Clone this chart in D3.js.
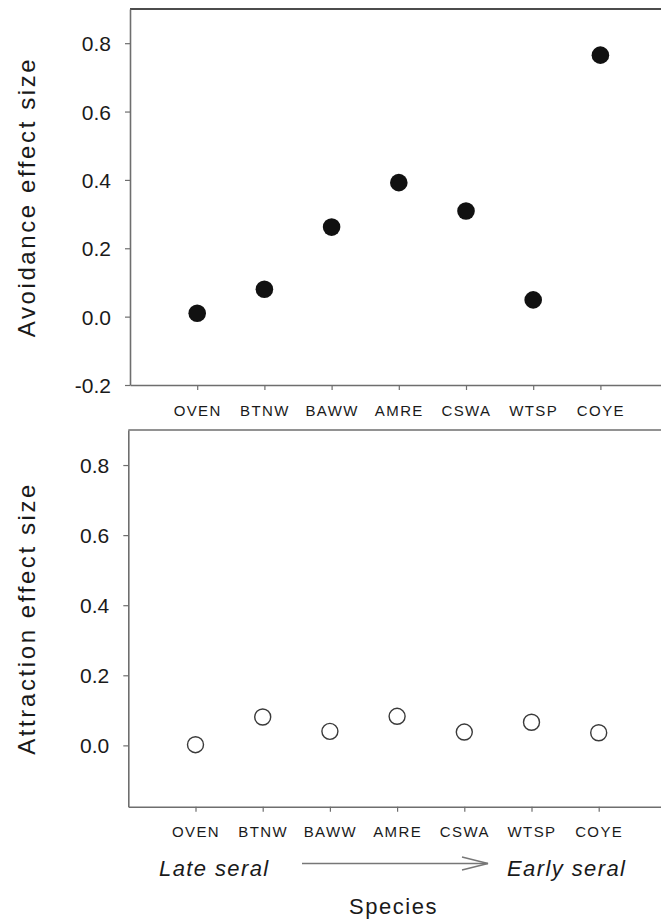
<!DOCTYPE html>
<html>
<head>
<meta charset="utf-8">
<script src="https://cdn.jsdelivr.net/npm/d3@7"></script>
<style>
  body { margin: 0; background: #fff; }
  text { font-family: "Liberation Sans", Arial, sans-serif; fill: #1a1a1a; }
</style>
</head>
<body>
<div id="chart"></div>
<script>
const width = 661;
const height = 920;

const species = ['OVEN', 'BTNW', 'BAWW', 'AMRE', 'CSWA', 'WTSP', 'COYE'];
const avoidance = [0.01, 0.08, 0.262, 0.392, 0.309, 0.049, 0.765];
const attraction = [0.002, 0.081, 0.04, 0.083, 0.038, 0.066, 0.036];
const avoidTicks = [-0.2, 0, 0.2, 0.4, 0.6, 0.8];
const attractTicks = [0, 0.2, 0.4, 0.6, 0.8];

const svg = d3.select('#chart')
    .append('svg')
    .attr('width', width)
    .attr('height', height);

// plain hyphen for negatives, like the original
const fmt = d => d3.format('.1f')(d).replace('\u2212', '-');

// one panel = frame + axes + points
function panel(opts) {
    const x = d3.scaleLinear().domain([0, 8]).range([opts.left, opts.left + 537.6]);
    const y = d3.scaleLinear().domain(opts.ydomain).range([opts.bottom, opts.top]);
    const g = svg.append('g');

    // frame (right edge falls outside the picture)
    g.append('line')
        .attr('x1', x(0)).attr('x2', x(8))
        .attr('y1', opts.top).attr('y2', opts.top)
        .attr('stroke', opts.topColor).attr('stroke-width', 1.6);

    const yAxis = g.append('g')
        .attr('transform', `translate(${x(0)},0)`)
        .call(d3.axisLeft(y).tickValues(opts.ticks).tickSize(5).tickSizeOuter(0)
            .tickPadding(14).tickFormat(fmt));
    yAxis.select('.domain').attr('stroke', '#6e6e6e').attr('stroke-width', 1.6);
    yAxis.selectAll('.tick line').attr('stroke', '#6e6e6e').attr('stroke-width', 1.2);
    yAxis.selectAll('.tick text')
        .attr('font-size', 21).attr('fill', '#1a1a1a')
        .attr('font-family', '"Liberation Sans", Arial, sans-serif')
        .attr('dy', '0.36em');

    const xAxis = g.append('g')
        .attr('transform', `translate(0,${opts.bottom})`)
        .call(d3.axisBottom(x).tickValues(d3.range(1, 8)).tickSize(5).tickSizeOuter(0)
            .tickFormat(i => species[i - 1]));
    xAxis.select('.domain').attr('stroke', '#6e6e6e').attr('stroke-width', 1.6);
    xAxis.selectAll('.tick line').attr('stroke', '#6e6e6e').attr('stroke-width', 1.2);
    xAxis.selectAll('.tick text')
        .attr('font-size', 15).attr('fill', '#1a1a1a')
        .attr('font-family', '"Liberation Sans", Arial, sans-serif')
        .attr('letter-spacing', 1.4)
        .attr('y', 30.5).attr('dy', 0);

    g.append('g')
        .selectAll('circle')
        .data(opts.values)
        .join('circle')
          .attr('cx', (d, i) => x(i + 1))
          .attr('cy', d => y(d))
          .attr('r', opts.filled ? 8.8 : 8)
          .attr('fill', opts.filled ? '#111' : 'none')
          .attr('stroke', opts.filled ? 'none' : '#3a3a3a')
          .attr('stroke-width', 1.4);

    g.append('text')
        .attr('transform', `translate(35,${(opts.top + opts.bottom) / 2}) rotate(-90)`)
        .attr('text-anchor', 'middle')
        .attr('font-size', 24)
        .attr('letter-spacing', 2.6)
        .text(opts.title);
}

panel({ left: 130, top: 9, bottom: 385, ydomain: [-0.2, 0.9], ticks: avoidTicks,
        values: avoidance, filled: true, topColor: '#111', title: 'Avoidance effect size' });
panel({ left: 128.3, top: 430, bottom: 806.7, ydomain: [-0.175, 0.9], ticks: attractTicks,
        values: attraction, filled: false, topColor: '#6e6e6e', title: 'Attraction effect size' });

// seral gradient note under the bottom axis
svg.append('text')
    .attr('x', 159).attr('y', 876)
    .attr('font-size', 22).attr('font-style', 'italic').attr('letter-spacing', 1.4)
    .text('Late seral');
svg.append('text')
    .attr('x', 507).attr('y', 876)
    .attr('font-size', 22).attr('font-style', 'italic').attr('letter-spacing', 1.4)
    .text('Early seral');

const arrow = svg.append('g').attr('stroke', '#777').attr('stroke-width', 1.3).attr('fill', 'none');
arrow.append('line').attr('x1', 302).attr('x2', 488).attr('y1', 863.5).attr('y2', 863.5);
arrow.append('path').attr('d', 'M462,857 L488,863.5 L462,870');

svg.append('text')
    .attr('x', 393.5).attr('y', 914)
    .attr('text-anchor', 'middle')
    .attr('font-size', 22).attr('letter-spacing', 1.5)
    .text('Species');
</script>
</body>
</html>
